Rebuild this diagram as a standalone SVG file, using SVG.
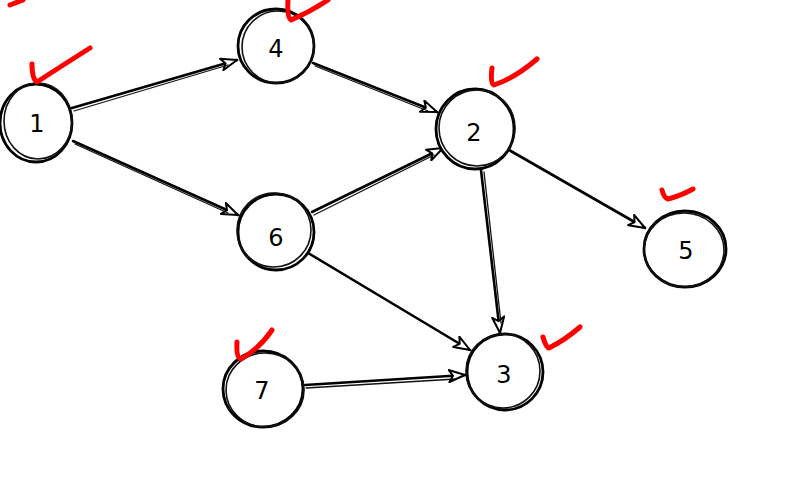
<svg xmlns="http://www.w3.org/2000/svg" width="790" height="490" viewBox="0 0 790 490">
<defs>
<style>
.c{fill:#fff;stroke:#000;stroke-width:2.8}
.c2{fill:none;stroke:#111;stroke-width:1.6}
.t{font-family:"DejaVu Sans","Liberation Sans",sans-serif;font-size:24px;fill:#000;text-anchor:middle;dominant-baseline:central}
.e{fill:none;stroke:#000;stroke-width:2.6;stroke-linecap:round;marker-end:url(#ah)}
.e2{fill:none;stroke:#111;stroke-width:1.3;stroke-linecap:round}
.ck{fill:none;stroke:#f00;stroke-width:5;stroke-linecap:round;stroke-linejoin:round}
</style>
<marker id="ah" viewBox="0 0 18 14" refX="17" refY="7" markerWidth="18" markerHeight="14" markerUnits="userSpaceOnUse" orient="auto">
<path d="M1,1 L17,7 L1,13 L5,7 Z" fill="#fff" stroke="#000" stroke-width="2" stroke-linejoin="round"/>
</marker>
</defs>
<rect width="790" height="490" fill="#fff"/>
<g id="connectors">
<path class="e" d="M72,108 L237,60"/><path class="e2" d="M74,111 L228,65"/>
<path class="e" d="M73,141 L238,215"/><path class="e2" d="M75,144 L228,213"/>
<path class="e" d="M313,63 L437,112"/><path class="e2" d="M315,66 L428,111"/>
<path class="e" d="M312,212 L443,148"/><path class="e2" d="M314,215 L434,155"/>
<path class="e" d="M509,150 L645,228"/>
<path class="e" d="M481,170 L500,333"/><path class="e2" d="M484,172 L501,323"/>
<path class="e" d="M308,253 L470,350"/>
<path class="e" d="M305,385 L465,375"/><path class="e2" d="M306,388 L456,379"/>
</g>
<g id="node-1"><ellipse class="c" cx="36" cy="123" rx="36" ry="39"/><ellipse class="c2" cx="38" cy="121" rx="34" ry="38"/><text class="t" x="37" y="124">1</text></g>
<g id="node-4"><ellipse class="c" cx="276" cy="46" rx="38" ry="37"/><ellipse class="c2" cx="278" cy="47" rx="36" ry="36"/><text class="t" x="276" y="49">4</text></g>
<g id="node-6"><ellipse class="c" cx="276" cy="232" rx="38" ry="38"/><ellipse class="c2" cx="274" cy="230" rx="37" ry="37"/><text class="t" x="276" y="238">6</text></g>
<g id="node-2"><ellipse class="c" cx="475" cy="129" rx="39" ry="40"/><ellipse class="c2" cx="477" cy="128" rx="38" ry="38"/><text class="t" x="474" y="133">2</text></g>
<g id="node-5"><ellipse class="c" cx="685" cy="249" rx="41" ry="38"/><ellipse class="c2" cx="684" cy="250" rx="40" ry="37"/><text class="t" x="686" y="251">5</text></g>
<g id="node-3"><ellipse class="c" cx="505" cy="372" rx="38" ry="38"/><ellipse class="c2" cx="503" cy="371" rx="37" ry="37"/><text class="t" x="504" y="375">3</text></g>
<g id="node-7"><ellipse class="c" cx="263" cy="389" rx="40" ry="38"/><ellipse class="c2" cx="265" cy="390" rx="39" ry="37"/><text class="t" x="262" y="391">7</text></g>
<g id="checks">
<path class="ck" d="M10,5 L23,0"/>
<path class="ck" d="M32,64 Q32,79 37,82 Q60,67 90,48"/>
<path class="ck" d="M288,0 Q287,18 291,20 Q310,12 328,0"/>
<path class="ck" d="M492,68 Q490,84 494,85 Q515,78 537,59"/>
<path class="ck" d="M662,190 Q664,198 668,199 Q680,196 693,189"/>
<path class="ck" d="M237,342 Q236,358 241,359 Q260,348 272,330"/>
<path class="ck" d="M543,337 Q546,348 549,348 Q565,340 580,327"/>
</g>
</svg>
